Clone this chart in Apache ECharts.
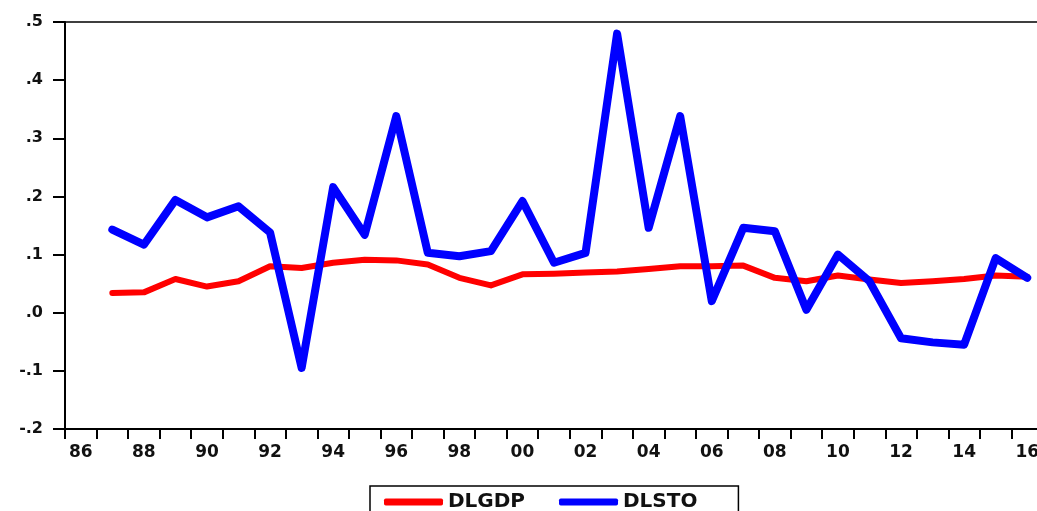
<!DOCTYPE html>
<html>
<head>
<meta charset="utf-8">
<script src="https://cdn.jsdelivr.net/npm/echarts@6/dist/echarts.min.js"></script>
<style>
html,body{margin:0;padding:0;background:#fff;}
#chart{width:1037px;height:511px;}
</style>
</head>
<body>
<div id="chart"></div>
<script>
var years = [1986,1987,1988,1989,1990,1991,1992,1993,1994,1995,1996,1997,1998,1999,2000,2001,2002,2003,2004,2005,2006,2007,2008,2009,2010,2011,2012,2013,2014,2015,2016];
var dlgdp = [null,0.034,0.035,0.058,0.045,0.054,0.080,0.077,0.086,0.091,0.090,0.083,0.060,0.047,0.066,0.067,0.069,0.071,0.075,0.080,0.080,0.081,0.060,0.054,0.064,0.057,0.051,0.054,0.058,0.064,0.062];
var dlsto = [null,0.143,0.117,0.194,0.164,0.183,0.138,-0.095,0.216,0.134,0.338,0.103,0.097,0.106,0.192,0.086,0.103,0.480,0.146,0.338,0.020,0.146,0.140,0.005,0.100,0.054,-0.044,-0.051,-0.055,0.094,0.060];
var yTicks = {min:-0.2, max:0.5, interval:0.1};

var chart = echarts.init(document.getElementById('chart'), null, {renderer:'canvas'});
var labelFont = 'DejaVu Sans';
chart.setOption({
  animation:false,
  backgroundColor:'#fff',
  grid:{left:65, top:22, width:978, bottom:82, outerBoundsMode:'none', containLabel:false,
        show:true, borderColor:'#000', borderWidth:1.5, backgroundColor:'transparent'},
  xAxis:{
    type:'category',
    data:years.map(function(y){return String(y).slice(2);}),
    boundaryGap:true,
    axisLine:{onZero:false, lineStyle:{color:'#000', width:2}},
    axisTick:{show:true, interval:0, length:10, lineStyle:{color:'#000', width:2}},
    axisLabel:{interval:1, margin:15, fontSize:17, fontFamily:labelFont, fontWeight:'bold', color:'#111', hideOverlap:false},
    splitLine:{show:false}
  },
  yAxis:{
    type:'value',
    min:yTicks.min, max:yTicks.max, interval:yTicks.interval,
    axisLine:{show:true, onZero:false, lineStyle:{color:'#000', width:2}},
    axisTick:{show:true, length:12, lineStyle:{color:'#000', width:2}},
    axisLabel:{margin:22, fontSize:16, fontFamily:labelFont, fontWeight:'bold', color:'#111',
      formatter:function(v){var s=(Math.round(v*10)/10).toFixed(1); return s.replace('0.', '.');}},
    splitLine:{show:false}
  },
  legend:{
    left:370, top:486,
    padding:[6,41,24,14],
    borderColor:'#000', borderWidth:1.5,
    itemWidth:59, itemHeight:7, itemGap:34,
    icon:'roundRect',
    textStyle:{fontSize:20, fontFamily:labelFont, fontWeight:'bold', color:'#111'},
    data:['DLGDP','DLSTO']
  },
  series:[
    {name:'DLGDP', type:'line', data:dlgdp, symbol:'none', connectNulls:false,
     itemStyle:{color:'#ff0000'}, lineStyle:{color:'#ff0000', width:6, join:'round', cap:'round'}},
    {name:'DLSTO', type:'line', data:dlsto, symbol:'none', connectNulls:false,
     itemStyle:{color:'#0000ff'}, lineStyle:{color:'#0000ff', width:8, join:'round', cap:'round'}}
  ]
});
</script>
</body>
</html>
